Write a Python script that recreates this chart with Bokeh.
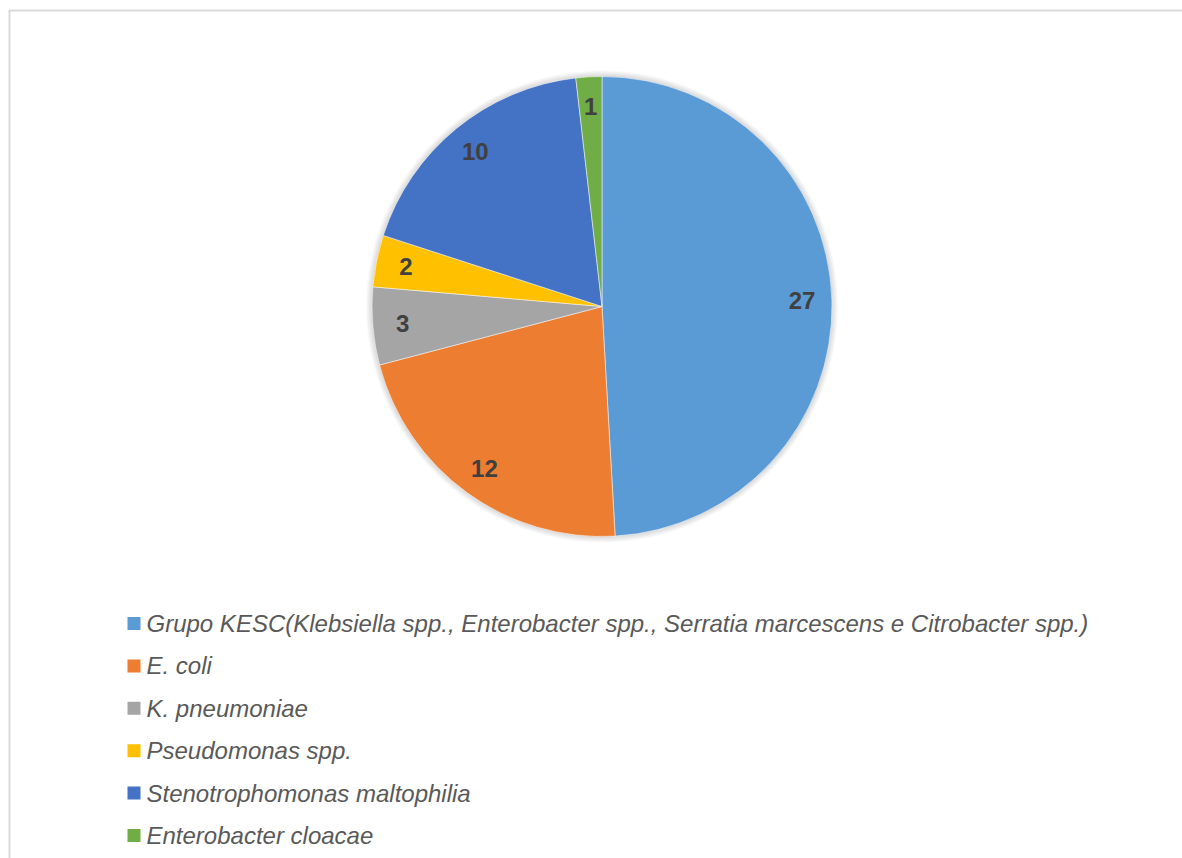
import math
from bokeh.plotting import figure
from bokeh.models import ColumnDataSource, Range1d
from bokeh.core.properties import value
from bokeh.embed import file_html
from bokeh.resources import INLINE

# ---- data ----
categories = [
    "Grupo KESC(Klebsiella spp., Enterobacter spp., Serratia marcescens e Citrobacter spp.)",
    "E. coli",
    "K. pneumoniae",
    "Pseudomonas spp.",
    "Stenotrophomonas maltophilia",
    "Enterobacter cloacae",
]
counts = [27, 12, 3, 2, 10, 1]
colors = ["#5B9BD5", "#ED7D31", "#A5A5A5", "#FFC000", "#4472C4", "#70AD47"]

W, H = 1182, 858
p = figure(width=W, height=H, output_backend="svg", toolbar_location=None,
           x_range=Range1d(0, W), y_range=Range1d(0, H), min_border=0)
p.axis.visible = False
p.grid.visible = False
p.outline_line_color = None
p.background_fill_color = "white"
p.border_fill_color = "white"

# chart-area border (only top/left visible in the window)
p.quad(left=[9], right=[W + 20], bottom=[-20], top=[H - 10],
       fill_color=None, line_color="#d9d9d9", line_width=2)

# ---- pie ----
cx, cy, r = 601.5, H - 306, 230
total = sum(counts)
starts, ends, lx, ly = [], [], [], []
acc = 0.0
for c in counts:
    t1 = acc / total * 2 * math.pi
    acc += c
    t2 = acc / total * 2 * math.pi
    # clockwise from top -> bokeh ccw from +x
    starts.append(math.pi / 2 - t2)
    ends.append(math.pi / 2 - t1)
    mid = (t1 + t2) / 2
    lx.append(cx + 0.87 * r * math.sin(mid))
    ly.append(cy + 0.87 * r * math.cos(mid))

# soft shadow around the pie
for k in range(1, 7):
    p.circle(x=[cx], y=[cy], radius=r + k, fill_color="#000000",
             fill_alpha=0.025, line_color=None)

src = ColumnDataSource(dict(start=starts, end=ends, color=colors,
                            lx=lx, ly=ly, lab=[str(c) for c in counts]))
p.wedge(x=cx, y=cy, radius=r, start_angle="start", end_angle="end",
        fill_color="color", line_color="white", line_width=0.5, source=src)

p.text(x="lx", y="ly", text="lab", source=src, text_align="center",
       text_baseline="middle", text_font=value("Liberation Sans"),
       text_font_style="bold", text_font_size="24px", text_color="#404040")

# ---- legend ----
ys = [H - (623 + i * 42.4) for i in range(len(categories))]
leg = ColumnDataSource(dict(x=[133.5] * len(categories), tx=[146] * len(categories),
                            y=ys, color=colors, name=categories))
p.scatter(x="x", y="y", marker="square", size=13, fill_color="color",
          line_color=None, source=leg)
p.text(x="tx", y="y", text="name", source=leg, text_align="left",
       text_baseline="middle", text_font=value("Liberation Sans"),
       text_font_style="italic", text_font_size="24px", text_color="#595959")

open("out.html", "w").write(file_html(p, INLINE))
